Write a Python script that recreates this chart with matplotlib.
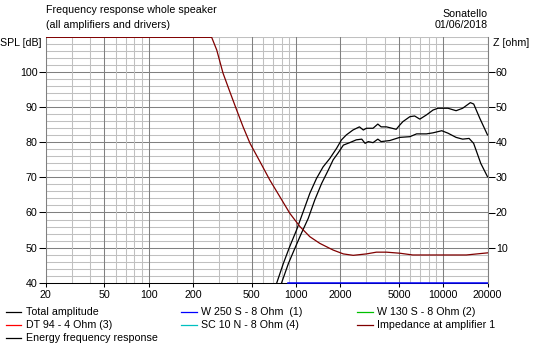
import matplotlib
matplotlib.use("Agg")
import matplotlib.pyplot as plt
from matplotlib.lines import Line2D
import numpy as np

plt.rcParams['font.family'] = ['Liberation Sans', 'DejaVu Sans']

# ---------------- data ----------------
freq_ticks = [20, 50, 100, 200, 500, 1000, 2000, 5000, 10000, 20000]
spl_ticks = [40, 50, 60, 70, 80, 90, 100]
z_ticks = [10, 20, 30, 40, 50, 60]

imp_f = [20, 268, 290, 320, 356, 396, 438, 488, 570, 664, 778, 908, 1064, 1244,
         1454, 1790, 2100, 2450, 3010, 3520, 4120, 5070, 6220, 8540, 14360, 20000]
imp_z = [69.9, 69.9, 66.3, 59.7, 54.4, 49.2, 44.4, 39.7, 34.5, 29.3, 24.5, 19.8, 16.0,
         13.1, 11.2, 9.3, 8.2, 7.8, 8.2, 8.7, 8.7, 8.4, 7.9, 7.9, 7.9, 8.5]

total_f = [742, 822, 908, 1010, 1120, 1244, 1380, 1530, 1700, 1890, 2040, 2200,
           2440, 2700, 2870, 3010, 3340, 3600, 3790, 4120, 4800, 5070, 5330, 5940,
           6400, 6940, 7700, 8540, 9220, 10780, 12240, 13560, 15300, 16120, 17750, 20000]
total_db = [40, 45.5, 50.3, 55.0, 60.2, 65.5, 69.7, 73.0, 75.4, 78.3, 80.7, 82.1,
            83.5, 84.4, 83.5, 84.0, 84.0, 85.2, 84.4, 84.4, 83.7, 84.9, 85.9, 87.3,
            87.5, 86.6, 87.8, 89.2, 89.7, 89.7, 89.0, 89.7, 91.3, 90.9, 86.8, 82.1]

energy_f = [800, 890, 984, 1090, 1212, 1344, 1496, 1660, 1790, 1930, 2100, 2320,
            2570, 2800, 2950, 3100, 3340, 3600, 3790, 4340, 5070, 5940, 6600, 7700,
            8540, 9780, 10780, 12240, 13560, 15000, 16100, 18000, 20000]
energy_db = [40, 45.5, 49.8, 54.1, 58.3, 63.6, 68.3, 72.1, 75.0, 76.9, 79.2, 79.9,
             80.7, 80.9, 79.7, 80.2, 79.9, 80.9, 80.2, 80.5, 81.4, 81.6, 82.4, 82.4,
             82.7, 83.3, 82.6, 81.4, 80.9, 81.1, 79.7, 74.0, 70.2]

woofer_f = [880, 20000]
woofer_db = [40, 40]

legend_labels = ["Total amplitude", "W 250 S - 8 Ohm  (1)", "W 130 S - 8 Ohm (2)",
                 "DT 94 - 4 Ohm (3)", "SC 10 N - 8 Ohm (4)", "Impedance at amplifier 1",
                 "Energy frequency response"]
legend_colors = ["#000000", "#0000ff", "#00c000", "#ff0000", "#00c0c0", "#800000", "#000000"]

# ---------------- figure ----------------
W, H = 534, 347
fig = plt.figure(figsize=(W / 100, H / 100), dpi=100)
x0, x1, ytop, ybot = 45.7, 487.5, 37.0, 282.7
ax = fig.add_axes([x0 / W, 1 - ybot / H, (x1 - x0) / W, (ybot - ytop) / H])
ax.set_xscale('log')
ax.set_xlim(20, 20000)
ax.set_ylim(40, 110)

# grid
light = "#c0c0c0"
dark = "#808080"
glw = 0.75
for v in range(42, 110, 2):
    ax.axhline(v, color=dark if v % 10 == 0 else light, lw=glw, zorder=0)
ax.axhline(110, color=light, lw=glw, zorder=0)
for dec in [10, 100, 1000, 10000]:
    for m in range(1, 10):
        f = dec * m
        if 20 <= f <= 20000:
            ax.axvline(f, color=dark if f in freq_ticks else light, lw=glw, zorder=0)

fs = 7.7
ax.minorticks_off()
ax.set_xticks(freq_ticks)
ax.set_xticklabels([str(t) for t in freq_ticks])
ax.set_yticks(spl_ticks)
ax.set_yticklabels([str(t) for t in spl_ticks])
ax.tick_params(axis='x', length=3, width=0.75, direction='out', labelsize=fs, pad=2)
ax.tick_params(axis='y', length=5, width=0.75, direction='out', labelsize=fs, pad=1)

ax.spines['top'].set_visible(False)
ax.spines['left'].set_color(dark)
ax.spines['right'].set_color(dark)
ax.spines['bottom'].set_color('black')
for s in ax.spines.values():
    s.set_linewidth(0.75)

ax2 = ax.twinx()
ax2.set_ylim(0, 70)
ax2.set_yticks(z_ticks)
ax2.set_yticklabels([str(t) for t in z_ticks])
ax2.tick_params(axis='y', length=5, width=0.75, direction='out', labelsize=fs, pad=1)
ax2.spines['top'].set_visible(False)
ax2.spines['right'].set_color(dark)
ax2.spines['right'].set_linewidth(0.75)
ax2.spines['left'].set_visible(False)
ax2.spines['bottom'].set_visible(False)

# curves
ax2.plot(imp_f, imp_z, color="#800000", lw=0.9, zorder=3)
ax.plot(total_f, total_db, color="black", lw=0.9, zorder=3)
ax.plot(energy_f, energy_db, color="black", lw=0.9, zorder=3)
ax.plot(woofer_f, woofer_db, color="#0000ff", lw=1.1, zorder=5, clip_on=False)

# titles
fig.text(46.5 / W, 1 - 10 / H, "Frequency response whole speaker", fontsize=fs, va='center', ha='left')
fig.text(46.5 / W, 1 - 25.5 / H, "(all amplifiers and drivers)", fontsize=fs, va='center', ha='left')
fig.text(488 / W, 1 - 14 / H, "Sonatello", fontsize=fs, va='center', ha='right')
fig.text(488 / W, 1 - 25.5 / H, "01/06/2018", fontsize=fs, va='center', ha='right')
fig.text(0 / W, 1 - 43 / H, "SPL [dB]", fontsize=fs, va='center', ha='left')
fig.text(493 / W, 1 - 43 / H, "Z [ohm]", fontsize=fs, va='center', ha='left')

# legend
cols_line = [(6, 21), (181, 197), (357, 373)]
cols_text = [26.5, 201, 377]
rows = [312, 324.5, 338]
for i, (lab, col) in enumerate(zip(legend_labels, legend_colors)):
    r, c = divmod(i, 3)
    y = 1 - rows[r] / H
    xa, xb = cols_line[c]
    fig.add_artist(Line2D([xa / W, xb / W], [y, y], color=col, lw=0.9, transform=fig.transFigure))
    fig.text(cols_text[c] / W, y, lab, fontsize=fs, va='center', ha='left')

fig.savefig("out.png", dpi=100)
